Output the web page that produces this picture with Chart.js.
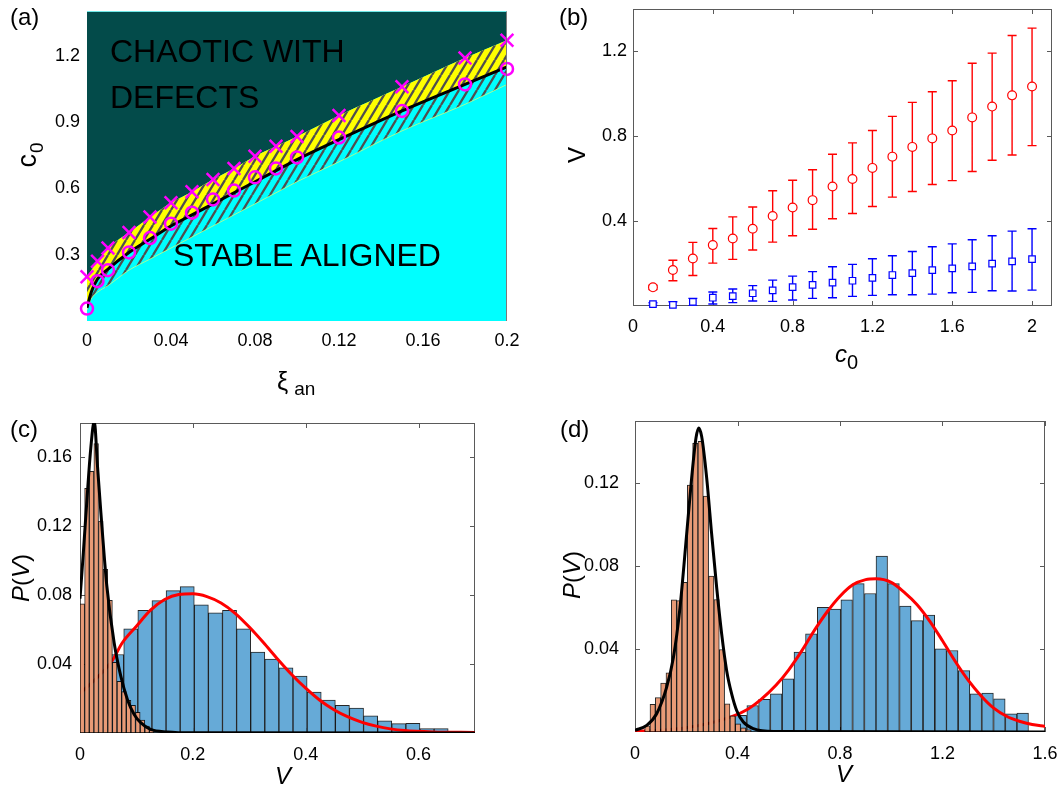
<!DOCTYPE html>
<html>
<head>
<meta charset="utf-8">
<script src="https://cdn.jsdelivr.net/npm/chart.js@4.4.1/dist/chart.umd.min.js"></script>
<style>
  body { margin: 0; background: #fff; }
  #page { position: relative; width: 1060px; height: 789px; overflow: hidden; background: #fff;
          font-family: "Liberation Sans", Arial, Helvetica, sans-serif; color: #000; }
  .pane { position: absolute; }
  .lbl { position: absolute; line-height: 1; white-space: nowrap; }
  .rot { transform: translate(-50%, -50%) rotate(-90deg); }
</style>
</head>
<body>
<div id="page">
  <div class="pane" style="left:0;top:0"><canvas id="ca" width="530" height="395"></canvas></div>
  <div class="pane" style="left:540px;top:0"><canvas id="cb" width="520" height="395"></canvas></div>
  <div class="pane" style="left:0;top:400px"><canvas id="cc" width="530" height="389"></canvas></div>
  <div class="pane" style="left:540px;top:400px"><canvas id="cd" width="520" height="389"></canvas></div>

  <div class="lbl" style="left:10px;top:5px;font-size:24px">(a)</div>
  <div class="lbl" style="left:559px;top:5px;font-size:24px">(b)</div>
  <div class="lbl" style="left:10px;top:417px;font-size:24px">(c)</div>
  <div class="lbl" style="left:560px;top:417px;font-size:24px">(d)</div>

  <div class="lbl" style="left:110px;top:35px;font-size:32px">CHAOTIC WITH</div>
  <div class="lbl" style="left:110px;top:81px;font-size:32px">DEFECTS</div>
  <div class="lbl" style="left:173px;top:239px;font-size:32px">STABLE ALIGNED</div>

  <div class="lbl rot" style="left:27px;top:155px;font-size:27px">c<span style="font-size:19px;position:relative;top:7px;margin-left:1px">0</span></div>
  <div class="lbl" style="left:277px;top:369px;font-size:25px">ξ<span style="font-size:19px;position:relative;top:5px;margin-left:6px">an</span></div>

  <div class="lbl rot" style="left:577px;top:155px;font-size:24px">V</div>
  <div class="lbl" style="left:835px;top:342px;font-size:24px"><i>c</i><span style="font-size:20px;position:relative;top:7px">0</span></div>

  <div class="lbl rot" style="left:21px;top:578px;font-size:24px"><i>P</i>(<i>V</i>)</div>
  <div class="lbl" style="left:275px;top:764px;font-size:24px"><i>V</i></div>
  <div class="lbl rot" style="left:572px;top:575px;font-size:24px"><i>P</i>(<i>V</i>)</div>
  <div class="lbl" style="left:836px;top:762px;font-size:24px"><i>V</i></div>
</div>

<script>
const FONT = '"Liberation Sans", Arial, Helvetica, sans-serif';
Chart.defaults.font.family = FONT;
Chart.defaults.color = '#000';

// ---- (a) phase diagram: xi_an vs c0
const xiAn = [0, 0.005, 0.01, 0.02, 0.03, 0.04, 0.05, 0.06, 0.07, 0.08, 0.09, 0.1, 0.12, 0.15, 0.18, 0.2];
const c0Cross = [0.2, 0.27, 0.33, 0.40, 0.47, 0.535, 0.585, 0.64, 0.69, 0.745, 0.79, 0.835, 0.93, 1.06, 1.19, 1.27];
const c0Circle = [0.056, 0.18, 0.23, 0.31, 0.375, 0.44, 0.49, 0.55, 0.59, 0.65, 0.69, 0.74, 0.83, 0.95, 1.07, 1.14];
const fitXi = [0, 0.002, 0.005, 0.01, 0.02, 0.03, 0.04, 0.05, 0.06, 0.07, 0.08, 0.09, 0.1, 0.12, 0.15, 0.18, 0.2];
const fitC0 = [0.06, 0.13, 0.19, 0.235, 0.31, 0.37, 0.43, 0.48, 0.53, 0.58, 0.63, 0.68, 0.73, 0.82, 0.95, 1.07, 1.15];
const hatchEdge = [0.05, 0.1, 0.13, 0.16, 0.23, 0.28, 0.33, 0.38, 0.43, 0.48, 0.53, 0.58, 0.63, 0.72, 0.86, 0.98, 1.07];
const aXTicks = [0, 0.04, 0.08, 0.12, 0.16, 0.2];
const aYTicks = [0.3, 0.6, 0.9, 1.2];

// ---- (b) V vs c0 with error bars
const c0Vals = [0.1, 0.2, 0.3, 0.4, 0.5, 0.6, 0.7, 0.8, 0.9, 1.0, 1.1, 1.2, 1.3, 1.4, 1.5, 1.6, 1.7, 1.8, 1.9, 2.0];
const vRed = [0.088, 0.17, 0.224, 0.287, 0.318, 0.364, 0.424, 0.464, 0.499, 0.563, 0.599, 0.651, 0.704, 0.75, 0.79, 0.827, 0.889, 0.94, 0.993, 1.035];
const vRedLo = [0.078, 0.119, 0.144, 0.202, 0.22, 0.264, 0.301, 0.331, 0.362, 0.411, 0.436, 0.469, 0.513, 0.54, 0.573, 0.591, 0.634, 0.687, 0.712, 0.756];
const vRedHi = [0.098, 0.216, 0.30, 0.365, 0.42, 0.467, 0.543, 0.593, 0.642, 0.715, 0.769, 0.827, 0.894, 0.96, 1.01, 1.062, 1.144, 1.192, 1.275, 1.31];
const vBlue = [0.009, 0.005, 0.019, 0.039, 0.047, 0.06, 0.074, 0.089, 0.1, 0.11, 0.119, 0.133, 0.146, 0.155, 0.169, 0.177, 0.187, 0.2, 0.21, 0.221];
const vBlueLo = [0.003, -0.011, 0.0, 0.0094, 0.0157, 0.0235, 0.022, 0.028, 0.036, 0.039, 0.0455, 0.05, 0.053, 0.053, 0.056, 0.0627, 0.064, 0.072, 0.0706, 0.075];
const vBlueHi = [0.015, 0.02, 0.036, 0.066, 0.08, 0.096, 0.122, 0.141, 0.162, 0.185, 0.196, 0.223, 0.237, 0.257, 0.279, 0.293, 0.312, 0.331, 0.353, 0.364];
const bXTicks = [0, 0.4, 0.8, 1.2, 1.6, 2];
const bYTicks = [0.4, 0.8, 1.2];

// ---- (c) histograms, small c0
const cOrangeX = [0.0041, 0.0123, 0.0205, 0.0287, 0.0369, 0.0451, 0.0533, 0.0615, 0.0697, 0.0779, 0.0861, 0.0943, 0.1025, 0.1107, 0.1189, 0.1271];
const cOrangeP = [0.075, 0.142, 0.152, 0.168, 0.123, 0.095, 0.077, 0.041, 0.030, 0.024, 0.019, 0.016, 0.012, 0.0075, 0.004, 0.002];
const cBlueX = [0.065, 0.09, 0.115, 0.14, 0.165, 0.19, 0.215, 0.24, 0.265, 0.29, 0.315, 0.34, 0.365, 0.39, 0.415, 0.44, 0.465, 0.49, 0.515, 0.54, 0.565, 0.59, 0.615, 0.64];
const cBlueP = [0.0456, 0.0605, 0.0713, 0.0769, 0.0827, 0.085, 0.0744, 0.0698, 0.0713, 0.0605, 0.047, 0.0429, 0.0379, 0.033, 0.0238, 0.0191, 0.016, 0.0145, 0.0099, 0.007, 0.0054, 0.0056, 0.0025, 0.0025];
const cBlackX = [0, 0.006, 0.0123, 0.019, 0.0253, 0.031, 0.037, 0.0476, 0.0605, 0.0723, 0.084, 0.096, 0.1076, 0.125, 0.155, 0.2, 0.7];
const cBlackP = [0.078, 0.105, 0.1355, 0.165, 0.181, 0.155, 0.128, 0.0852, 0.0524, 0.033, 0.0195, 0.0108, 0.006, 0.0021, 0.0006, 0.0001, 0];
const cRedX = [0, 0.03, 0.0565, 0.075, 0.1, 0.125, 0.15, 0.175, 0.2, 0.225, 0.25, 0.275, 0.3, 0.325, 0.35, 0.375, 0.4, 0.425, 0.45, 0.475, 0.5, 0.525, 0.55, 0.575, 0.625, 0.7];
const cRedP = [0.023, 0.032, 0.0417, 0.0524, 0.062, 0.0713, 0.0775, 0.0804, 0.0808, 0.0792, 0.0755, 0.0695, 0.0615, 0.0525, 0.043, 0.034, 0.026, 0.019, 0.0135, 0.0093, 0.0062, 0.004, 0.0024, 0.0014, 0.0006, 0.0003];
const cXTicks = [0, 0.2, 0.4, 0.6];
const cYTicks = [0.04, 0.08, 0.12, 0.16];

// ---- (d) histograms, large c0
const dOrangeX = [0.0481, 0.0689, 0.0897, 0.1105, 0.1313, 0.1521, 0.1729, 0.1937, 0.2145, 0.2353, 0.2561, 0.2769, 0.2977, 0.3185, 0.3393, 0.3601, 0.3809, 0.4017, 0.4225, 0.4433];
const dOrangeP = [0.003, 0.0133, 0.0166, 0.0236, 0.0285, 0.0638, 0.0634, 0.0722, 0.1191, 0.1392, 0.1402, 0.1138, 0.0752, 0.0639, 0.0398, 0.0136, 0.0078, 0.004, 0.002, 0.001];
const dBlueX = [0.413, 0.459, 0.505, 0.551, 0.597, 0.643, 0.688, 0.734, 0.780, 0.826, 0.872, 0.918, 0.963, 1.009, 1.055, 1.101, 1.147, 1.193, 1.238, 1.284, 1.330, 1.376, 1.422, 1.468, 1.513];
const dBlueP = [0.008, 0.0128, 0.0157, 0.0184, 0.0256, 0.0385, 0.0473, 0.0601, 0.0593, 0.0638, 0.0716, 0.0668, 0.0848, 0.0716, 0.0607, 0.0537, 0.0564, 0.0401, 0.0393, 0.0296, 0.0184, 0.0188, 0.016, 0.0088, 0.0091];
const dBlackX = [0, 0.0455, 0.0845, 0.1236, 0.15, 0.1756, 0.2016, 0.2211, 0.238, 0.2485, 0.26, 0.2797, 0.2992, 0.3187, 0.3382, 0.3577, 0.3772, 0.3967, 0.4228, 0.4618, 0.54, 1.6];
const dBlackP = [0.0008, 0.0032, 0.0088, 0.0216, 0.036, 0.060, 0.0954, 0.1226, 0.1418, 0.1466, 0.1426, 0.1226, 0.0954, 0.0697, 0.0473, 0.0296, 0.0184, 0.0104, 0.0048, 0.0016, 0.0002, 0];
const dRedX = [0, 0.1, 0.2, 0.3, 0.38, 0.44, 0.49, 0.55, 0.6, 0.65, 0.7, 0.75, 0.8, 0.85, 0.9, 0.94, 1.0, 1.05, 1.1, 1.15, 1.2, 1.25, 1.3, 1.35, 1.4, 1.45, 1.5, 1.55, 1.6];
const dRedP = [0.0003, 0.0008, 0.002, 0.0045, 0.0075, 0.011, 0.0155, 0.0225, 0.030, 0.039, 0.049, 0.058, 0.0655, 0.071, 0.0735, 0.0739, 0.0722, 0.0675, 0.0615, 0.0535, 0.044, 0.034, 0.025, 0.0175, 0.0115, 0.0076, 0.0052, 0.0036, 0.0027];
const dXTicks = [0, 0.4, 0.8, 1.2, 1.6];
const dYTicks = [0.04, 0.08, 0.12];

// ── helpers
const pts = (xs, ys) => xs.map((x, i) => ({ x, y: ys[i] }));

function axis(min, max, ticks, size, pad) {
  return {
    type: 'linear', min, max, offset: false,
    grid: { display: false, drawTicks: false, offset: false },
    border: { display: false },
    afterBuildTicks: s => { s.ticks = ticks.map(v => ({ value: v })); },
    ticks: { font: { size: 18 }, color: '#000', padding: pad, maxRotation: 0, autoSkip: false, callback: v => String(v) },
    afterFit: s => {
      if (s.isHorizontal()) { s.height = size; s.paddingLeft = 0; s.paddingRight = 0; }
      else { s.width = size; s.paddingTop = 0; s.paddingBottom = 0; }
    }
  };
}

const hiddenX = (min, max) => ({
  type: 'linear', min, max, offset: false, display: false,
  afterFit: s => { s.paddingLeft = 0; s.paddingRight = 0; }
});

const base = {
  responsive: false, animation: false, events: [],
  plugins: { legend: { display: false }, tooltip: { enabled: false } }
};

// box with inward tick marks on all four sides
const frame = {
  id: 'frame',
  beforeDatasetsDraw(chart) {
    const { ctx, chartArea: a, scales: { x, y } } = chart;
    ctx.save();
    ctx.strokeStyle = '#5a5a5a';
    ctx.lineWidth = 1;
    ctx.strokeRect(a.left + 0.5, a.top + 0.5, a.width - 1, a.height - 1);
    ctx.beginPath();
    x.ticks.forEach(t => {
      const px = Math.round(x.getPixelForValue(t.value)) + 0.5;
      ctx.moveTo(px, a.bottom); ctx.lineTo(px, a.bottom - 5);
      ctx.moveTo(px, a.top); ctx.lineTo(px, a.top + 5);
    });
    y.ticks.forEach(t => {
      const py = Math.round(y.getPixelForValue(t.value)) + 0.5;
      ctx.moveTo(a.left, py); ctx.lineTo(a.left + 5, py);
      ctx.moveTo(a.right, py); ctx.lineTo(a.right - 5, py);
    });
    ctx.stroke();
    ctx.restore();
  }
};

// diagonal hatch used in panel (a)
function hatch() {
  const c = document.createElement('canvas');
  c.width = 9; c.height = 15;
  const g = c.getContext('2d');
  g.strokeStyle = '#4f4f4f';
  g.lineWidth = 2.3;
  g.beginPath();
  [-9, 0, 9].forEach(o => { g.moveTo(o, 15); g.lineTo(o + 9, 0); });
  g.stroke();
  return g.createPattern(c, 'repeat');
}

// ── (a)
const cyanBg = {
  id: 'cyanBg',
  beforeDatasetsDraw(chart) {
    const { ctx, chartArea: a } = chart;
    ctx.save(); ctx.fillStyle = '#00ffff';
    ctx.fillRect(a.left, a.top, a.width, a.height);
    ctx.restore();
  },
  afterDatasetsDraw(chart) {
    const { ctx, chartArea: a } = chart;
    ctx.save(); ctx.strokeStyle = '#7a7a7a'; ctx.lineWidth = 1;
    ctx.beginPath(); ctx.moveTo(a.right - 0.5, a.top); ctx.lineTo(a.right - 0.5, a.bottom); ctx.stroke();
    ctx.restore();
  }
};

const edge = { borderColor: 'transparent', borderWidth: 1, pointRadius: 0, cubicInterpolationMode: 'monotone' };

new Chart(document.getElementById('ca'), {
  type: 'line',
  data: {
    datasets: [
      { ...edge, data: pts(xiAn, c0Cross), fill: 'end', backgroundColor: '#034b4a', order: 7 },
      { ...edge, data: pts(xiAn, c0Cross), fill: 4, backgroundColor: '#ffff00', order: 6 },
      { ...edge, data: pts(xiAn, c0Cross), fill: 3, backgroundColor: hatch(), order: 5 },
      { ...edge, data: pts(fitXi, hatchEdge), fill: false, borderColor: 'rgba(215,255,120,0.75)', order: 4 },
      { data: pts(fitXi, fitC0), fill: false, borderColor: '#000', borderWidth: 3, pointRadius: 0, cubicInterpolationMode: 'monotone', order: 3 },
      { data: pts(xiAn, c0Cross), showLine: false, pointStyle: 'crossRot', pointRadius: 9, clip: false,
        pointBorderWidth: 2.5, pointBorderColor: '#ff00ff', pointBackgroundColor: 'transparent', order: 2 },
      { data: pts(xiAn, c0Circle), showLine: false, pointStyle: 'circle', pointRadius: 6, clip: false,
        pointBorderWidth: 2.5, pointBorderColor: '#ff00ff', pointBackgroundColor: 'transparent', order: 1 }
    ]
  },
  options: {
    ...base,
    layout: { padding: { left: 0, top: 3, right: 23, bottom: 0 } },
    scales: { x: axis(0, 0.2, aXTicks, 74, 9), y: axis(0, 1.4, aYTicks, 87, 7) }
  },
  plugins: [cyanBg]
});

// ── (b)
const errorBars = {
  id: 'errorBars',
  beforeDatasetsDraw(chart) {
    const { ctx, chartArea: a, scales: { x, y } } = chart;
    ctx.save();
    ctx.beginPath(); ctx.rect(a.left, a.top, a.width, a.height); ctx.clip();
    ctx.lineWidth = 1.4;
    [[vRedLo, vRedHi, '#ff0000'], [vBlueLo, vBlueHi, '#0000ff']].forEach(([lo, hi, col]) => {
      ctx.strokeStyle = col;
      ctx.beginPath();
      c0Vals.forEach((c, i) => {
        const px = x.getPixelForValue(c);
        const p1 = y.getPixelForValue(lo[i]), p2 = y.getPixelForValue(hi[i]);
        ctx.moveTo(px, p1); ctx.lineTo(px, p2);
        ctx.moveTo(px - 4.5, p1); ctx.lineTo(px + 4.5, p1);
        ctx.moveTo(px - 4.5, p2); ctx.lineTo(px + 4.5, p2);
      });
      ctx.stroke();
    });
    ctx.restore();
  }
};

new Chart(document.getElementById('cb'), {
  type: 'scatter',
  data: {
    datasets: [
      { data: pts(c0Vals, vRed), pointStyle: 'circle', pointRadius: 4.4, pointBorderWidth: 1.2, clip: false,
        pointBorderColor: '#ff0000', pointBackgroundColor: '#fff' },
      { data: pts(c0Vals, vBlue), pointStyle: 'rect', pointRadius: 4.6, pointBorderWidth: 1.2, clip: false,
        pointBorderColor: '#0000ff', pointBackgroundColor: '#fff' }
    ]
  },
  options: {
    ...base,
    layout: { padding: { left: 0, top: 9, right: 8, bottom: 0 } },
    scales: { x: axis(0, 2.1, bXTicks, 89, 10), y: axis(0, 1.4, bYTicks, 93, 6) }
  },
  plugins: [frame, errorBars]
});

// ── (c) and (d) histograms
function histChart(id, o) {
  return new Chart(document.getElementById(id), {
    type: 'bar',
    data: {
      datasets: [
        { data: pts(o.blueX, o.blueP), xAxisID: 'x', backgroundColor: '#66aad7', borderColor: 'rgba(0,0,0,0.85)',
          borderWidth: 1, borderSkipped: false, grouped: false, categoryPercentage: 1, barPercentage: 1, order: 4 },
        { type: 'line', data: pts(o.redX, o.redP), xAxisID: 'x', borderColor: '#ff0000', borderWidth: 3,
          pointRadius: 0, fill: false, cubicInterpolationMode: 'monotone', order: 3 },
        { data: pts(o.orangeX, o.orangeP), xAxisID: 'x2', backgroundColor: '#e89a76', borderColor: 'rgba(0,0,0,0.85)',
          borderWidth: 1, borderSkipped: false, grouped: false, categoryPercentage: 1, barPercentage: 1, order: 2 },
        { type: 'line', data: pts(o.blackX, o.blackP), xAxisID: 'x', borderColor: '#000', borderWidth: 3,
          pointRadius: 0, fill: false, cubicInterpolationMode: 'monotone', order: 1 }
      ]
    },
    options: {
      ...base,
      layout: { padding: o.padding },
      scales: {
        x: axis(0, o.xMax, o.xTicks, o.xSize, 11),
        x2: hiddenX(0, o.xMax),
        y: axis(0, o.yMax, o.yTicks, o.ySize, o.yPad)
      }
    },
    plugins: [frame]
  });
}

histChart('cc', {
  blueX: cBlueX, blueP: cBlueP, orangeX: cOrangeX, orangeP: cOrangeP,
  redX: cRedX, redP: cRedP, blackX: cBlackX, blackP: cBlackP,
  xMax: 0.7, yMax: 0.18, xTicks: cXTicks, yTicks: cYTicks,
  padding: { left: 0, top: 23, right: 55, bottom: 0 }, xSize: 56, ySize: 80, yPad: 8
});

histChart('cd', {
  blueX: dBlueX, blueP: dBlueP, orangeX: dOrangeX, orangeP: dOrangeP,
  redX: dRedX, redP: dRedP, blackX: dBlackX, blackP: dBlackP,
  xMax: 1.6, yMax: 0.15, xTicks: dXTicks, yTicks: dYTicks,
  padding: { left: 0, top: 21, right: 15, bottom: 0 }, xSize: 57, ySize: 95, yPad: 16
});
</script>
</body>
</html>
